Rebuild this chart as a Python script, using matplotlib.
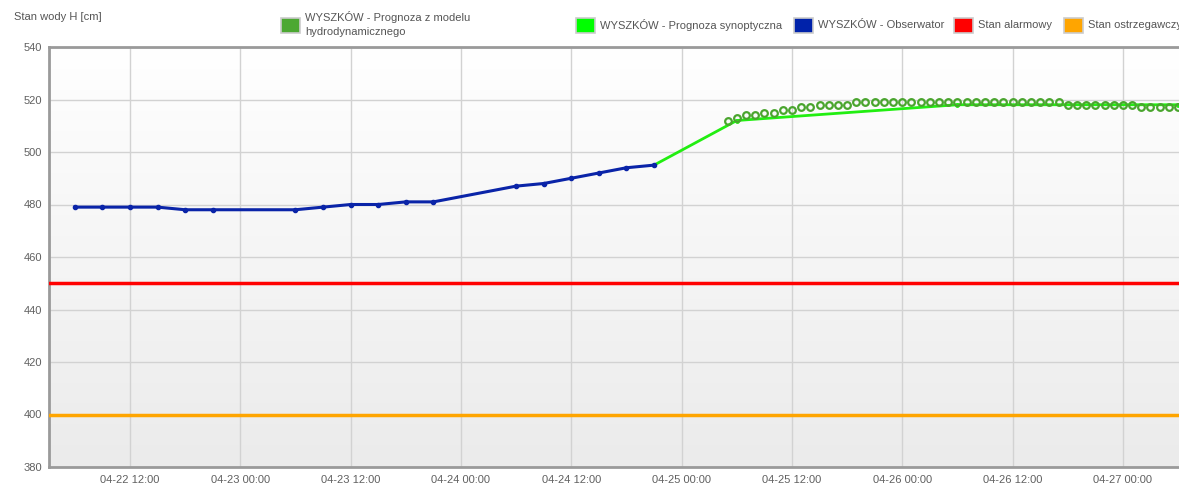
import numpy as np
import pandas as pd
import matplotlib
matplotlib.use("Agg")
import matplotlib.pyplot as plt
import matplotlib.dates as mdates
from matplotlib.patches import Rectangle

plt.rcParams['font.family'] = ['Liberation Sans', 'DejaVu Sans']

# observed water level (every 3 h, gap on 04-23 night)
obs_time = pd.to_datetime([
    "2024-04-22 06:00", "2024-04-22 09:00", "2024-04-22 12:00", "2024-04-22 15:00",
    "2024-04-22 18:00", "2024-04-22 21:00", "2024-04-23 06:00", "2024-04-23 09:00",
    "2024-04-23 12:00", "2024-04-23 15:00", "2024-04-23 18:00", "2024-04-23 21:00",
    "2024-04-24 06:00", "2024-04-24 09:00", "2024-04-24 12:00", "2024-04-24 15:00",
    "2024-04-24 18:00", "2024-04-24 21:00"])
obs_val = [479, 479, 479, 479, 478, 478, 478, 479, 480, 480, 481, 481,
           487, 488, 490, 492, 494, 495]

# synoptic forecast
syn_time = pd.to_datetime(["2024-04-24 21:00", "2024-04-25 06:00",
                           "2024-04-26 06:00", "2024-04-27 06:00"])
syn_val = [495, 512, 518, 518]

# hydrodynamic model forecast (hourly from 04-25 05:00)
hyd_time = pd.date_range("2024-04-25 05:00", "2024-04-27 07:00", freq="h")
hyd_val = ([512, 513, 514, 514, 515, 515, 516, 516, 517, 517,
            518, 518, 518, 518] + [519] * 23 + [518] * 8 + [517] * 6)

alarm_level = 450
warning_level = 400

x_ticks = pd.date_range("2024-04-22 12:00", "2024-04-27 00:00", freq="12h")
y_ticks = np.arange(380, 541, 20)

fig = plt.figure(figsize=(11.79, 4.84), dpi=100)
ax = fig.add_axes([49 / 1179, 1 - 467 / 484, 1 - 49 / 1179, 420 / 484])

x0 = pd.Timestamp("2024-04-22 12:00") - pd.Timedelta(hours=8.81)
x1 = pd.Timestamp("2024-04-22 12:00") + pd.Timedelta(hours=114.1)
ax.set_xlim(x0, x1)
ax.set_ylim(380, 540)

# background gradient
grad = np.linspace(1, 0, 256).reshape(-1, 1)
ax.imshow(grad, extent=[0, 1, 0, 1], transform=ax.transAxes, aspect='auto',
          cmap=matplotlib.colors.LinearSegmentedColormap.from_list('bg', ['#ebebeb', '#ffffff']),
          zorder=0)

ax.set_xticks(x_ticks)
ax.xaxis.set_major_formatter(mdates.DateFormatter("%m-%d %H:%M"))
ax.set_yticks(y_ticks)
ax.grid(True, color='#d2d2d2', lw=1, zorder=1)
ax.tick_params(length=0, labelsize=8, colors='#606060', pad=5)
ax.tick_params(axis='x', pad=5.5)

for s in ['left', 'bottom', 'top']:
    ax.spines[s].set_color('#9a9a9a')
    ax.spines[s].set_linewidth(2)
ax.spines['right'].set_visible(False)

ax.axhline(alarm_level, color='#ff0000', lw=2.5, zorder=3)
ax.axhline(warning_level, color='#ffa500', lw=2.5, zorder=3)

ax.plot(syn_time, syn_val, color='#22ee11', lw=2, marker='o', ms=2.5, zorder=4)
ax.plot(hyd_time, hyd_val, ls='none', marker='o', ms=4.8, mfc='none',
        mec='#4aa52e', mew=1.6, zorder=5)
ax.plot(obs_time, obs_val, color='#0a24a8', lw=2.2, marker='o', ms=3, zorder=6)

fig.text(14 / 1179, 1 - 17 / 484, "Stan wody H [cm]", fontsize=8, color='#555555',
         va='center', ha='left')

# legend drawn above the plot area
legend_items = [
    (281, '#4ca832', "WYSZKÓW - Prognoza z modelu\nhydrodynamicznego", 24),
    (576, '#00ff00', "WYSZKÓW - Prognoza synoptyczna", 25),
    (794, '#0022aa', "WYSZKÓW - Obserwator", 25),
    (954, '#ff0000', "Stan alarmowy", 25),
    (1064, '#ffa500', "Stan ostrzegawczy", 25),
]
for xpix, col, label, ypix in legend_items:
    fig.patches.append(Rectangle((xpix / 1179, 1 - 33 / 484), 19 / 1179, 15 / 484,
                                 transform=fig.transFigure, facecolor=col,
                                 edgecolor='#cccccc', lw=1.2))
    fig.text((xpix + 24) / 1179, 1 - ypix / 484, label, fontsize=8, color='#555555',
             va='center', ha='left', linespacing=1.45)

fig.savefig("out.png", dpi=100)
